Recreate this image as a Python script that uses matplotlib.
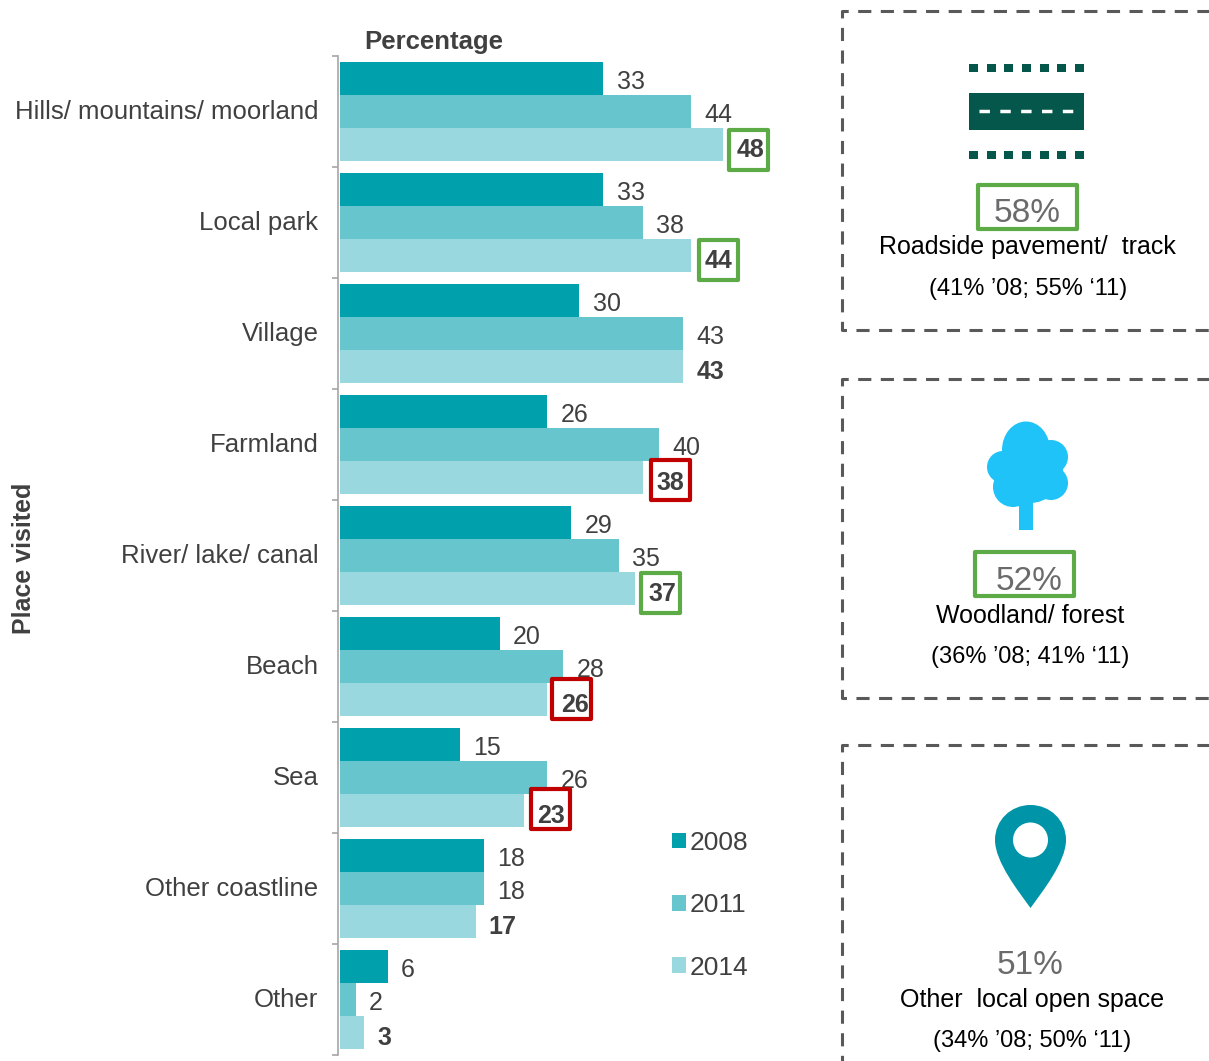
import matplotlib
matplotlib.use('Agg')
import matplotlib.pyplot as plt
from matplotlib.patches import Circle, Ellipse, PathPatch, Rectangle
from matplotlib.path import Path
from matplotlib.transforms import ScaledTranslation

plt.rcParams['font.family'] = ['Liberation Sans', 'DejaVu Sans']

places = ['Hills/ mountains/ moorland', 'Local park', 'Village', 'Farmland',
          'River/ lake/ canal', 'Beach', 'Sea', 'Other coastline', 'Other']
years = ['2008', '2011', '2014']
values_2008 = [33, 33, 30, 26, 29, 20, 15, 18, 6]
values_2011 = [44, 38, 43, 40, 35, 28, 26, 18, 2]
values_2014 = [48, 44, 43, 38, 37, 26, 23, 17, 3]
change_2014 = ['up', 'up', None, 'down', 'up', 'down', 'down', None, None]

panel_values = ['58%', '52%', '51%']
panel_names = ['Roadside pavement/  track', 'Woodland/ forest', 'Other  local open space']
panel_history = ['(41% ’08; 55% ‘11)', '(36% ’08; 41% ‘11)', '(34% ’08; 50% ‘11)']

W, H = 1209, 1061
BAR_COLOURS = ['#00a0ac', '#66c5cd', '#9ad8df']
TEXT = '#404040'
GREEN = '#5cab47'
RED = '#c00000'
ROAD = '#04574a'
GREY = '#595959'
PX_PER_UNIT = 7.98
ROW = 111

fig = plt.figure(figsize=(W / 100, H / 100), dpi=100)

# chart axes, 0 sits at x=340 px, rows are 111 px apart
ax_top = 56
ax_bottom = ax_top + 9 * ROW
ax = fig.add_axes([340 / W, 1 - ax_bottom / H, 440 / W, (ax_bottom - ax_top) / H])
ax.set_xlim(0, 440 / PX_PER_UNIT)
ax.set_ylim(8.5, -0.5)
ax.patch.set_visible(False)

series = [values_2008, values_2011, values_2014]
for k, vals in enumerate(series):
    ys = [i + (k - 1) * 0.3 for i in range(len(places))]
    ax.barh(ys, vals, height=0.3, color=BAR_COLOURS[k], label=years[k], zorder=2)
    for y, v in zip(ys, vals):
        ax.annotate(str(v), (v, y), xytext=(9.5, -3.8 if k == 2 else -2.4),
                    textcoords='offset points', va='center', ha='left',
                    fontsize=18, color=TEXT, zorder=3 if k < 2 else 5,
                    fontweight='bold' if k == 2 else 'normal')

# highlight boxes do not sit evenly on the rows, so nudge each one (px)
box_dx = {0: 6, 1: 8, 3: 8, 4: 6, 5: 5, 6: 7}
box_dy = {0: 5, 1: 4, 3: 2, 4: 4, 5: -1, 6: -2}
for i, change in enumerate(change_2014):
    if change is None:
        continue
    colour = GREEN if change == 'up' else RED
    left = values_2014[i] + box_dx[i] / PX_PER_UNIT
    top = i + 0.3 + box_dy[i] / ROW - 20 / ROW
    ax.add_patch(Rectangle((left, top), 39 / PX_PER_UNIT, 40 / ROW,
                           fc='white', ec=colour, lw=3, joinstyle='round', zorder=4))

for side in ['top', 'right', 'bottom']:
    ax.spines[side].set_visible(False)
ax.spines['left'].set_color('#a6a6a6')
ax.spines['left'].set_linewidth(1.2)
ax.spines['left'].set_position(('outward', 1.5))
ax.set_xticks([])
ax.set_yticks(range(len(places)))
ax.set_yticklabels(places, fontsize=18.5, color=TEXT)
ax.tick_params(axis='y', which='major', length=0, pad=14)
ax.set_yticks([i - 0.5 for i in range(len(places) + 1)], minor=True)
ax.tick_params(axis='y', which='minor', length=4, width=1.2, color='#a6a6a6')
shift = ScaledTranslation(0, 1.1 / 72, fig.dpi_scale_trans)
for lab in ax.get_yticklabels():
    lab.set_transform(lab.get_transform() + shift)

ax.legend(loc='upper left', bbox_to_anchor=((672 - 340) / 440, 1 - (831 - ax_top) / (ax_bottom - ax_top)),
          frameon=False, fontsize=19, labelcolor=TEXT, handlelength=0.52,
          handleheight=0.52, handletextpad=0.15, labelspacing=1.45,
          borderpad=0, borderaxespad=0)

# overlay in pixel coordinates for the headings and right hand panels
ov = fig.add_axes([0, 0, 1, 1])
ov.set_xlim(0, W)
ov.set_ylim(H, 0)
ov.axis('off')
ov.patch.set_visible(False)

ov.text(364, 42, 'Percentage', fontsize=18.5, fontweight='bold', color=TEXT, va='center')
ov.text(24, 558, 'Place visited', fontsize=18, fontweight='bold', color=TEXT,
        rotation=90, va='center', ha='center')

# dashed panels run off the right edge, the last one off the bottom
dash = (0, (4.3, 3.1))
for top, bottom in [(11, 330), (379, 698), (745, 1120)]:
    ov.plot([1260, 842, 842, 1260], [top, top, bottom, bottom], color=GREY, lw=2.2,
            linestyle=dash, dash_capstyle='butt', clip_on=True)

# road icon
ov.add_patch(Rectangle((969, 93), 115, 37, fc=ROAD, ec='none'))
ov.plot([979, 1074], [111, 111], color='white', lw=2.5, linestyle=(0, (3, 3)),
        dash_capstyle='butt')
for sq_y in [64, 151]:
    for i in range(7):
        ov.add_patch(Rectangle((969 + i * 17.65, sq_y), 9, 7.5, fc=ROAD, ec='none'))

# tree icon
TREE = '#1fc3f7'
ov.add_patch(Ellipse((1026, 450), 48, 57, fc=TREE, ec='none'))
for cx, cy, r in [(1003, 467, 16), (1051, 457, 17), (1051, 483, 17),
                  (1013, 487, 20), (1030, 470, 33)]:
    ov.add_patch(Circle((cx, cy), r, fc=TREE, ec='none'))
ov.add_patch(Rectangle((1019, 495), 14, 35, fc=TREE, ec='none'))

# location pin
PIN = '#0094a8'
pin_verts = [(995, 840), (995, 820), (1011, 805), (1030.5, 805),
             (1050, 805), (1066, 820), (1066, 840),
             (1066, 862), (1042, 892), (1030.5, 908),
             (1019, 892), (995, 862), (995, 840)]
pin_codes = [Path.MOVETO] + [Path.CURVE4] * 12
ov.add_patch(PathPatch(Path(pin_verts, pin_codes), fc=PIN, ec='none'))
ov.add_patch(Circle((1030.5, 840), 17.5, fc='white', ec='none'))

# panel text
ov.add_patch(Rectangle((977.5, 185), 99, 44, fc='none', ec=GREEN, lw=3, joinstyle='round'))
ov.add_patch(Rectangle((975, 552), 99, 44, fc='none', ec=GREEN, lw=3, joinstyle='round'))
value_pos = [(1027, 213), (1029, 582), (1030, 966)]
name_pos = [(1027, 247), (1030, 616), (1032, 1000)]
hist_pos = [(1028, 289), (1030, 657), (1032, 1041)]
for i in range(3):
    ov.text(*value_pos[i], panel_values[i], fontsize=24, color='#6b6b6b', ha='center', va='center')
    ov.text(*name_pos[i], panel_names[i], fontsize=18, color='black', ha='center', va='center')
    ov.text(*hist_pos[i], panel_history[i], fontsize=17, color='black', ha='center', va='center')

fig.savefig('out.png', dpi=100)
